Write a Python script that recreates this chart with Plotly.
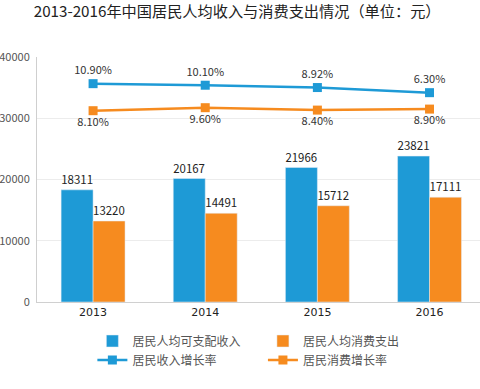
import plotly.graph_objects as go

years = ["2013", "2014", "2015", "2016"]
income = [18311, 20167, 21966, 23821]
consumption = [13220, 14491, 15712, 17111]
income_growth = [10.90, 10.10, 8.92, 6.30]
consumption_growth = [8.10, 9.60, 8.40, 8.90]
income_growth_lbl = ["10.90%", "10.10%", "8.92%", "6.30%"]
consumption_growth_lbl = ["8.10%", "9.60%", "8.40%", "8.90%"]
y_ticks = [0, 10000, 20000, 30000, 40000]

BLUE = "#1e9ad6"
ORANGE = "#f68b1f"
FONT = "Noto Sans CJK SC, Microsoft YaHei, sans-serif"

fig = go.Figure()
fig.add_trace(go.Bar(
    x=years, y=income, name="居民人均可支配收入", marker_color=BLUE,
    text=[str(v) for v in income], textposition="outside",
    textfont=dict(size=12, color="#222"), cliponaxis=False, legend="legend"))
fig.add_trace(go.Bar(
    x=years, y=consumption, name="居民人均消费支出", marker_color=ORANGE,
    text=[str(v) for v in consumption], textposition="outside",
    textfont=dict(size=12, color="#222"), cliponaxis=False, legend="legend2"))
fig.add_trace(go.Scatter(
    x=years, y=income_growth, name="居民收入增长率", yaxis="y2",
    mode="lines+markers+text", line=dict(color=BLUE, width=2.5),
    marker=dict(symbol="square", size=9, color=BLUE),
    text=income_growth_lbl, textposition="top center",
    textfont=dict(size=11, color="#333"), cliponaxis=False, legend="legend"))
fig.add_trace(go.Scatter(
    x=years, y=consumption_growth, name="居民消费增长率", yaxis="y3",
    mode="lines+markers+text", line=dict(color=ORANGE, width=2.5),
    marker=dict(symbol="square", size=9, color=ORANGE),
    text=consumption_growth_lbl, textposition="bottom center",
    textfont=dict(size=11, color="#333"), cliponaxis=False, legend="legend2"))

leg_common = dict(orientation="v", yanchor="top", xanchor="left",
                  font=dict(size=12, color="#555", family=FONT),
                  tracegroupgap=0, itemwidth=30, bgcolor="rgba(0,0,0,0)")

fig.update_layout(
    width=480, height=389,
    margin=dict(l=37, r=0, t=57, b=87, autoexpand=False),
    paper_bgcolor="white", plot_bgcolor="white",
    font=dict(family=FONT, color="#333"),
    title=dict(text="2013-2016年中国居民人均收入与消费支出情况（单位：元）",
               x=0.494, xanchor="center", y=0.971, yanchor="middle",
               font=dict(size=15.2, color="#222", family=FONT)),
    barmode="group", bargap=0.43, bargroupgap=0,
    showlegend=True,
    legend=dict(x=0.125, y=-0.1, **leg_common),
    legend2=dict(x=0.51, y=-0.1, **leg_common),
    xaxis=dict(range=[-0.5, 3.45], showline=True, linecolor="#d0d0d0",
               ticks="", tickfont=dict(size=11, color="#222", family="DejaVu Sans")),
    yaxis=dict(range=[0, 40000], tickvals=y_ticks, tickformat="d",
               showgrid=True, gridcolor="#ececec", showline=True, linecolor="#cfcfcf",
               zeroline=False, ticks="", tickfont=dict(size=11, color="#555"),
               ticklabelstandoff=4),
    yaxis2=dict(range=[-100.5, 24.5], overlaying="y", visible=False),
    yaxis3=dict(range=[-87.55, 34.95], overlaying="y", visible=False),
)

fig.write_html("out.html", config={"displayModeBar": False},
               post_script="document.body.style.margin='0';")
